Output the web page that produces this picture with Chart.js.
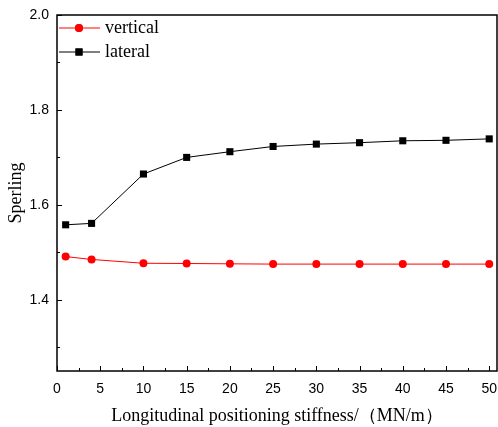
<!DOCTYPE html>
<html>
<head>
<meta charset="utf-8">
<script src="https://cdn.jsdelivr.net/npm/chart.js@4/dist/chart.umd.min.js"></script>
<style>
  html, body { margin: 0; padding: 0; background: #fff; overflow: hidden; }
  #wrap { width: 502px; height: 427px; }
</style>
</head>
<body>
<div id="wrap"><canvas id="sperling-grafica"></canvas></div>
<script>
const stiffness = [1, 4, 10, 15, 20, 25, 30, 35, 40, 45, 50];
const vertical = [1.491, 1.485, 1.477, 1.4765, 1.4758, 1.4752, 1.4752, 1.4752, 1.4752, 1.4752, 1.4752];
const lateral = [1.558, 1.561, 1.665, 1.700, 1.712, 1.723, 1.728, 1.731, 1.735, 1.736, 1.739];
const xTicks = [0, 5, 10, 15, 20, 25, 30, 35, 40, 45, 50];
const xMinor = [2.5, 7.5, 12.5, 17.5, 22.5, 27.5, 32.5, 37.5, 42.5, 47.5];
const yTicks = [1.4, 1.6, 1.8, 2.0];
const yMinor = [1.3, 1.5, 1.7, 1.9];

const serif = '"Liberation Serif", "Times New Roman", serif';
const sans = '"Liberation Sans", Arial, sans-serif';

// frame, inward ticks and legend
const marcoPlugin = {
	id: "marco",
	afterDraw(chart) {
		const { ctx, chartArea: a, scales } = chart;
		ctx.save();
		ctx.strokeStyle = "#000";
		ctx.lineWidth = 1.5;
		ctx.strokeRect(a.left, a.top, a.right - a.left, a.bottom - a.top);
		ctx.lineWidth = 1;
		ctx.beginPath();
		xTicks.forEach(v => {
			const x = Math.round(scales.x.getPixelForValue(v)) + 0.5;
			ctx.moveTo(x, a.bottom); ctx.lineTo(x, a.bottom - 5);
		});
		xMinor.forEach(v => {
			const x = Math.round(scales.x.getPixelForValue(v)) + 0.5;
			ctx.moveTo(x, a.bottom); ctx.lineTo(x, a.bottom - 3);
		});
		yTicks.forEach(v => {
			const y = Math.round(scales.y.getPixelForValue(v)) + 0.5;
			ctx.moveTo(a.left, y); ctx.lineTo(a.left + 5, y);
		});
		yMinor.forEach(v => {
			const y = Math.round(scales.y.getPixelForValue(v)) + 0.5;
			ctx.moveTo(a.left, y); ctx.lineTo(a.left + 3, y);
		});
		ctx.stroke();

		// legend
		const items = [
			{ text: "vertical", color: "#ff0000", style: "circle", r: 4, y: a.top + 13 },
			{ text: "lateral", color: "#000000", style: "rect", r: 5, y: a.top + 37 }
		];
		items.forEach(it => {
			ctx.strokeStyle = it.color;
			ctx.lineWidth = 1;
			ctx.beginPath();
			ctx.moveTo(a.left + 2, it.y);
			ctx.lineTo(a.left + 43, it.y);
			ctx.stroke();
			ctx.fillStyle = it.color;
			Chart.helpers.drawPoint(ctx, { pointStyle: it.style, radius: it.r, rotation: 0, borderWidth: 0 }, a.left + 22, it.y);
			ctx.fill();
			ctx.fillStyle = "#000";
			ctx.font = "18px " + serif;
			ctx.textBaseline = "middle";
			ctx.textAlign = "left";
			ctx.fillText(it.text, a.left + 48, it.y);
		});
		ctx.restore();
	}
};

new Chart(document.getElementById("sperling-grafica"), {
	type: "line",
	data: {
		datasets: [
			{
				label: "vertical",
				data: stiffness.map((x, i) => ({ x, y: vertical[i] })),
				borderColor: "#ff0000",
				backgroundColor: "#ff0000",
				borderWidth: 1,
				pointStyle: "circle",
				pointRadius: 4,
				pointBorderWidth: 0,
			},
			{
				label: "lateral",
				data: stiffness.map((x, i) => ({ x, y: lateral[i] })),
				borderColor: "#000000",
				backgroundColor: "#000000",
				borderWidth: 1,
				pointStyle: "rect",
				pointRadius: 5,
				pointBorderWidth: 0,
			},
		],
	},
	options: {
		responsive: true,
		maintainAspectRatio: false,
		animation: false,
		layout: { padding: { top: 15, right: 1, left: 0, bottom: 0 } },
		plugins: {
			legend: { display: false },
			tooltip: { enabled: false },
		},
		scales: {
			x: {
				type: "linear",
				min: 0,
				max: 50.9,
				afterBuildTicks: s => { s.ticks = xTicks.map(v => ({ value: v })); },
				afterFit: s => { s.height = 56; s.paddingLeft = 0; s.paddingRight = 0; },
				grid: { display: false, drawTicks: false },
				border: { display: false },
				ticks: {
					color: "#000",
					font: { family: sans, size: 14 },
					padding: 10,
					maxRotation: 0,
					callback: v => String(v),
				},
				title: {
					display: true,
					text: "Longitudinal positioning stiffness/（MN/m）",
					color: "#000",
					font: { family: serif, size: 18 },
					padding: { top: 2, bottom: 0 },
				},
			},
			y: {
				min: 1.25,
				max: 2.0,
				afterBuildTicks: s => { s.ticks = yTicks.map(v => ({ value: v })); },
				afterFit: s => { s.width = 57; s.paddingTop = 0; s.paddingBottom = 0; },
				grid: { display: false, drawTicks: false },
				border: { display: false },
				ticks: {
					color: "#000",
					font: { family: sans, size: 14 },
					padding: 8,
					callback: v => v.toFixed(1),
				},
				title: {
					display: true,
					text: "Sperling",
					color: "#000",
					font: { family: serif, size: 18 },
					padding: { top: 5, bottom: 4 },
				},
			},
		},
	},
	plugins: [marcoPlugin],
});
</script>
</body>
</html>
